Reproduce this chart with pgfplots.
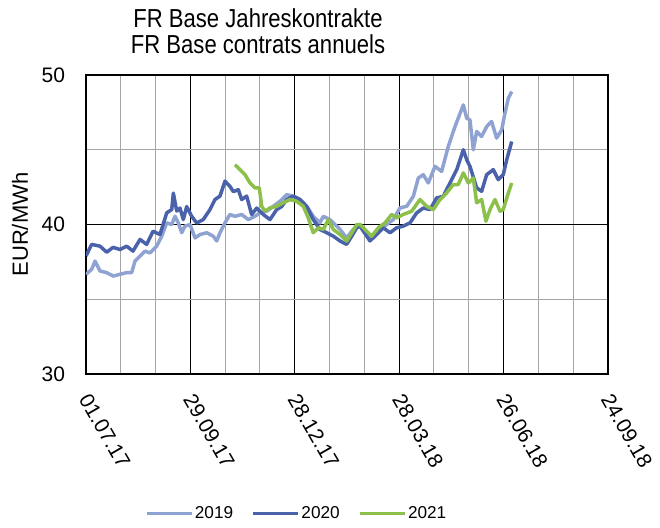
\documentclass[border=0pt]{standalone}
\usepackage{fontspec}
\setmainfont{Liberation Sans}
\usepackage{pgfplots}
\pgfplotsset{compat=1.18}

\definecolor{c2019}{HTML}{8FA3D3}
\definecolor{c2020}{HTML}{4A62AA}
\definecolor{c2021}{HTML}{8CC04A}
\definecolor{gridgray}{HTML}{A6A6A6}

\begin{document}
\begin{tikzpicture}
  \path[use as bounding box] (-43pt,-76.5pt) rectangle (287pt,187pt);
  \begin{axis}[
      at={(0,0)}, anchor=south west,
      width=261pt, height=149.5pt, scale only axis,
      xmin=0, xmax=450, ymin=30, ymax=50,
      xtick={0,90,180,270,360,450},
      xticklabels={01.07.17,29.09.17,28.12.17,28.03.18,26.06.18,24.09.18},
      ytick={30,40,50},
      minor x tick num=2,
      minor y tick num=1,
      grid=both,
      major grid style={black, line width=0.5pt},
      minor grid style={gridgray, line width=0.5pt},
      axis line style={black, line width=0.75pt},
      major tick length=0pt, minor tick length=0pt,
      /pgf/number format/assume math mode=true,
      ticklabel style={font=\fontsize{10.5}{12}\selectfont},
      yticklabel style={xshift=-7pt},
      xticklabel style={xshift=-2.5pt, yshift=-8pt, rotate=-60, anchor=west,
                        font=\fontsize{10.4}{12}\selectfont},
      legend style={at={(0.403,-0.4666)}, anchor=center, draw=none, fill=none,
                    legend columns=-1, font=\fontsize{8.6}{10}\selectfont,
                    /tikz/every even column/.append style={column sep=8.3pt},
                    nodes={inner sep=0.8pt},
                    inner sep=0pt},
      legend image code/.code={\draw[#1] (0pt,0pt) -- (22.5pt,0pt);},
      every axis plot/.append style={line width=1.75pt, line join=round},
    ]
    % 2019
    \addplot[c2019] coordinates {
      (0,36.67)(4.9,37.0)(7.8,37.55)(12.1,36.89)(17.8,36.78)(23.5,36.55)(29.3,36.67)
      (35.1,36.78)(39.4,36.78)(42.2,37.55)(46.6,37.89)(50.9,38.22)(55.2,38.1)(60.9,38.55)
      (65.3,39.22)(69.6,40.11)(73.9,40.0)(76.7,40.55)(79.6,40.11)(82.5,39.45)(85.3,39.89)
      (89.7,40.0)(94.0,39.1)(98.3,39.33)(104.1,39.45)(109.7,39.22)(112.7,38.9)(115.5,39.45)
      (119.8,40.11)(124.1,40.67)(128.4,40.55)(134.2,40.67)(139.9,40.33)(145.7,40.55)
      (150.0,40.78)(155.8,40.89)(161.5,41.22)(167.2,41.55)(173.0,42.0)(178.7,41.89)
      (184.5,41.67)(190.3,41.22)(195.9,40.55)(201.7,40.11)(204.6,40.55)(210.3,40.33)
      (219.0,39.67)(224.7,39.1)(230.4,39.67)(236.2,40.0)(244.8,39.0)(250.6,39.45)
      (259.2,40.0)(264.9,40.33)(270.7,41.11)(276.5,41.22)(282.2,41.89)(286.5,43.11)
      (290.8,43.33)(295.1,42.78)(300.9,43.89)(306.6,43.55)(312.3,45.22)(318.1,46.55)
      (320.9,47.11)(325.3,48.0)(328.2,47.11)(331.0,47.0)(333.9,45.0)(336.8,46.22)
      (341.1,45.89)(345.4,46.55)(349.7,46.89)(354.0,45.78)(358.4,46.33)(361.2,47.45)
      (364.1,48.45)(367.0,48.89)
    };
    % 2020
    \addplot[c2020] coordinates {
      (0,37.9)(4.9,38.67)(12.1,38.55)(17.8,38.15)(23.3,38.47)(29.3,38.33)(35.1,38.55)
      (40.5,38.22)(46.6,39.0)(52.3,38.67)(57.8,39.55)(63.8,39.33)(69.6,40.78)(73.9,41.0)
      (75.3,42.1)(78.2,40.9)(81.0,41.1)(83.9,40.33)(86.8,41.2)(91.1,40.55)(95.4,40.1)
      (101.1,40.33)(106.9,41.0)(111.2,41.67)(115.5,41.9)(119.8,42.9)(124.1,42.55)
      (127.0,42.2)(131.3,42.33)(134.2,41.67)(138.5,41.9)(142.8,40.67)(147.2,41.1)
      (152.8,40.67)(158.6,40.33)(164.4,41.0)(168.7,41.2)(173.0,41.67)(178.7,41.9)
      (184.5,41.67)(190.3,41.2)(195.9,40.33)(201.7,39.67)(207.5,39.45)(213.2,39.22)
      (219.0,38.9)(224.7,38.67)(229.1,39.22)(233.4,39.78)(236.2,39.89)(244.8,38.9)
      (250.6,39.33)(256.3,39.78)(262.1,39.45)(267.8,39.78)(273.5,39.89)(279.3,40.11)
      (285.1,40.78)(290.8,41.1)(296.6,41.0)(302.3,41.78)(308.0,41.89)(313.8,42.78)
      (319.6,43.67)(325.3,45.0)(328.2,44.33)(331.0,43.89)(336.8,42.45)(341.1,42.22)
      (345.4,43.33)(351.1,43.67)(355.4,43.0)(359.7,43.33)(362.7,44.33)(367.0,45.55)
    };
    % 2021
    \addplot[c2021] coordinates {
      (128.4,44.0)(132.8,43.67)(137.1,43.33)(141.4,42.78)(145.7,42.45)(149.4,42.45)
      (151.5,41.22)(154.3,40.89)(158.6,41.11)(164.4,41.22)(170.1,41.45)(175.9,41.67)
      (181.6,41.55)(187.3,41.22)(191.6,40.45)(195.9,39.45)(200.3,39.78)(204.6,39.67)
      (208.9,40.33)(213.2,39.67)(219.0,39.33)(224.7,38.89)(229.1,39.45)(233.4,40.0)
      (236.2,40.0)(242.0,39.55)(246.3,39.22)(252.0,39.78)(257.8,40.11)(263.5,40.67)
      (267.8,40.45)(273.5,40.67)(280.8,40.89)(287.9,41.67)(293.7,41.22)(299.4,41.0)
      (305.2,41.67)(310.9,42.11)(316.6,42.67)(320.9,42.67)(325.3,43.45)(329.6,42.78)
      (333.9,43.11)(336.8,41.45)(341.1,41.67)(344.8,40.22)(348.3,41.0)(352.6,41.67)
      (356.9,40.89)(359.7,41.0)(363.2,41.89)(367.0,42.78)
    };
    \legend{2019,2020,2021}
  \end{axis}
  \node[anchor=base, font=\fontsize{13}{15}\selectfont] at (86pt,173.5pt) {\scalebox{0.85}[1]{FR Base Jahreskontrakte}};
  \node[anchor=base, font=\fontsize{13}{15}\selectfont] at (86pt,160.5pt) {\scalebox{0.85}[1]{FR Base contrats annuels}};
  \node[rotate=90, font=\fontsize{11}{13}\selectfont] at (-33pt,74.75pt) {EUR/MWh};
\end{tikzpicture}
\end{document}
